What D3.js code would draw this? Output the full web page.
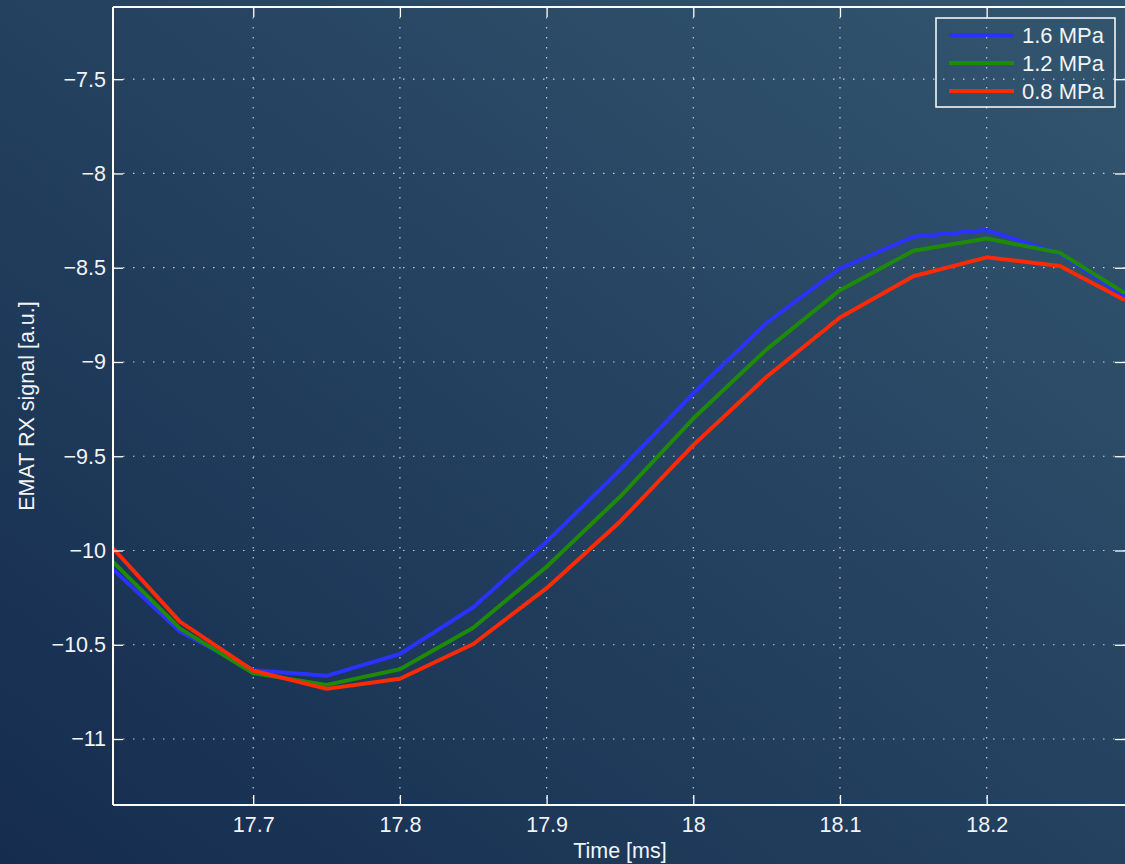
<!DOCTYPE html>
<html>
<head>
<meta charset="utf-8">
<script src="https://cdn.jsdelivr.net/npm/d3@7"></script>
<style>
  html, body { margin: 0; padding: 0; background: #1b3457; }
  svg { display: block; font-family: "Liberation Sans", Arial, sans-serif; }
</style>
</head>
<body>
<svg id="chart" width="1125" height="864"></svg>
<script>
// 시간 축 (ms), 0.05 간격 샘플 + 양 끝 경계
const times = [17.6044, 17.65, 17.7, 17.75, 17.8, 17.85, 17.9, 17.95, 18.0, 18.05, 18.1, 18.15, 18.2, 18.25, 18.2943];
const p16 = [-10.10, -10.43, -10.635, -10.665, -10.549, -10.301, -9.953, -9.573, -9.167, -8.792, -8.504, -8.336, -8.30, -8.425, -8.654];
const p12 = [-10.06, -10.413, -10.651, -10.713, -10.63, -10.41, -10.086, -9.715, -9.30, -8.933, -8.619, -8.41, -8.345, -8.421, -8.636];
const p08 = [-9.988, -10.377, -10.637, -10.734, -10.68, -10.496, -10.2, -9.847, -9.441, -9.078, -8.764, -8.545, -8.445, -8.491, -8.672];
const seriesNames = ["1.6 MPa", "1.2 MPa", "0.8 MPa"];
const seriesColors = ["#2a32ff", "#1f8a06", "#ff2a00"];
const xTicks = [17.7, 17.8, 17.9, 18.0, 18.1, 18.2];
const yTicks = [-11, -10.5, -10, -9.5, -9, -8.5, -8, -7.5];

const svg = d3.select("#chart");
const W = 1125, H = 864;
const m = { left: 113, right: 1126, top: 7, bottom: 805 };
const FS = 21.5;

// 배경 그라디언트
const defs = svg.append("defs");
const grad = defs.append("linearGradient").attr("id", "bg")
    .attr("x1", "0%").attr("y1", "100%").attr("x2", "100%").attr("y2", "0%");
grad.append("stop").attr("offset", "0%").attr("stop-color", "#152c4f");
grad.append("stop").attr("offset", "100%").attr("stop-color", "#33566f");
svg.append("rect").attr("width", W).attr("height", H).attr("fill", "url(#bg)");

const x = d3.scaleLinear().domain([17.6044, 18.2943]).range([m.left, 1125]);
const y = d3.scaleLinear().domain([-11.35, -7.117]).range([m.bottom, m.top]);

// 그리드
const grid = svg.append("g").attr("stroke", "rgba(230,236,245,0.8)")
    .attr("stroke-width", 1.2).attr("stroke-dasharray", "1.5,8.5");
grid.selectAll("line.gx").data(xTicks).join("line").attr("class", "gx")
    .attr("x1", d => x(d)).attr("x2", d => x(d))
    .attr("y1", m.top).attr("y2", m.bottom);
grid.selectAll("line.gy").data(yTicks).join("line").attr("class", "gy")
    .attr("y1", d => y(d)).attr("y2", d => y(d))
    .attr("x1", m.left).attr("x2", m.right);

// 라인
const data = [p16, p12, p08];
const line = d3.line().x((d, i) => x(times[i])).y(d => y(d));
svg.append("defs").append("clipPath").attr("id", "clip")
    .append("rect").attr("x", m.left).attr("y", m.top)
    .attr("width", 1125 - m.left).attr("height", m.bottom - m.top);
svg.append("g").attr("clip-path", "url(#clip)")
    .selectAll("path.series").data(data).join("path")
    .attr("class", "series")
    .attr("d", line)
    .attr("fill", "none")
    .attr("stroke", (d, i) => seriesColors[i])
    .attr("stroke-width", 4)
    .attr("stroke-linejoin", "round");

// 축 (눈금 안쪽)
const fmt = d3.format("~g");
const axisColor = "#ffffff";
function styleAxis(g) {
    g.select(".domain").remove();
    g.attr("font-size", FS).attr("font-family", "Liberation Sans, Arial, sans-serif");
    g.selectAll(".tick line").attr("stroke", axisColor).attr("stroke-width", 1.3);
    g.selectAll(".tick text").attr("fill", "#f2f4f8");
}
svg.append("g").attr("transform", `translate(0,${m.bottom})`)
    .call(d3.axisBottom(x).tickValues(xTicks).tickFormat(fmt).tickSizeInner(-10).tickPadding(12))
    .call(styleAxis);
svg.append("g").attr("transform", `translate(0,${m.top})`)
    .call(d3.axisTop(x).tickValues(xTicks).tickFormat("").tickSizeInner(-10))
    .call(styleAxis);
svg.append("g").attr("transform", `translate(${m.left},0)`)
    .call(d3.axisLeft(y).tickValues(yTicks).tickFormat(fmt).tickSizeInner(-10).tickPadding(7))
    .call(styleAxis);
svg.append("g").attr("transform", `translate(1125,0)`)
    .call(d3.axisRight(y).tickValues(yTicks).tickFormat("").tickSizeInner(-10))
    .call(styleAxis);

// 테두리
svg.append("path")
    .attr("d", `M${m.left},${m.bottom}H${m.right}M${m.left},${m.top}H${m.right}M${m.left},${m.top}V${m.bottom}`)
    .attr("stroke", axisColor).attr("stroke-width", 2).attr("fill", "none");

// 축 라벨
svg.append("text").attr("x", x(17.95)).attr("y", 858)
    .attr("text-anchor", "middle").attr("fill", "#f2f4f8").attr("font-size", FS)
    .text("Time [ms]");
svg.append("text").attr("transform", `translate(34,${(m.top + m.bottom) / 2}) rotate(-90)`)
    .attr("text-anchor", "middle").attr("fill", "#f2f4f8").attr("font-size", FS)
    .text("EMAT RX signal [a.u.]");

// 범례
const lg = svg.append("g").attr("transform", "translate(936,18)");
lg.append("rect").attr("width", 179).attr("height", 89)
    .attr("fill", "none").attr("stroke", axisColor).attr("stroke-width", 1.5);
const items = lg.selectAll("g.item").data(seriesNames).join("g")
    .attr("class", "item")
    .attr("transform", (d, i) => `translate(0,${17 + i * 28})`);
items.append("line").attr("x1", 13).attr("x2", 78)
    .attr("stroke", (d, i) => seriesColors[i]).attr("stroke-width", 4);
items.append("text").attr("x", 86).attr("y", 8)
    .attr("fill", "#f2f4f8").attr("font-size", 22).text(d => d);
</script>
</body>
</html>
